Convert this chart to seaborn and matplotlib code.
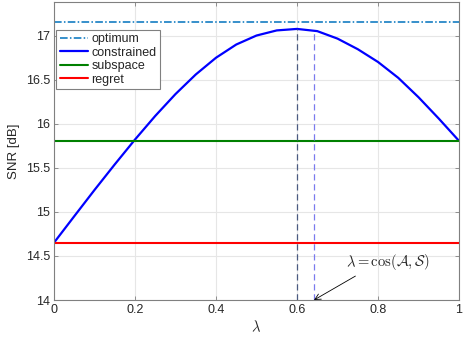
import numpy as np
import pandas as pd
import matplotlib
matplotlib.use("Agg")
import matplotlib.pyplot as plt
import seaborn as sns

# values
lam = [0.0, 0.05, 0.10, 0.15, 0.20, 0.25, 0.30, 0.35, 0.40, 0.45, 0.50,
       0.55, 0.60, 0.65, 0.70, 0.75, 0.80, 0.85, 0.90, 0.95, 1.0]
snr_constrained = [14.650, 14.950, 15.248, 15.538, 15.820, 16.088, 16.336, 16.558, 16.748, 16.898, 17.000,
                   17.058, 17.075, 17.050, 16.965, 16.845, 16.700, 16.520, 16.300, 16.058, 15.805]
snr_optimum = 17.15
snr_subspace = 15.80
snr_regret = 14.65
lam_best = 0.60      # maximiser of the constrained curve
lam_cos = 0.642      # cos(A, S)
snr_at_best = 17.075
snr_at_cos = 17.05

xticks = [0, 0.2, 0.4, 0.6, 0.8, 1]
yticks = [14, 14.5, 15, 15.5, 16, 16.5, 17]


def main():
    sns.set_style("whitegrid", {"grid.color": "#e6e6e6", "axes.edgecolor": "#808080",
                                "xtick.direction": "in", "ytick.direction": "in"})
    plt.rcParams['font.family'] = ['Liberation Sans', 'DejaVu Sans']
    plt.rcParams['mathtext.fontset'] = 'cm'

    fig = plt.figure(figsize=(4.63, 3.38), dpi=100)
    ax = fig.add_axes([0.1166, 0.1124, 0.8748, 0.8816])

    flat = pd.DataFrame({"lam": [0, 1]})
    sns.lineplot(x=flat["lam"], y=[snr_optimum] * 2, ax=ax, color="#0072BD",
                 linestyle=(0, (5, 1.5, 1, 1.5)), lw=1.1, label="optimum")
    sns.lineplot(x=lam, y=snr_constrained, ax=ax, color="#0000FF", lw=1.6, label="constrained")
    sns.lineplot(x=flat["lam"], y=[snr_subspace] * 2, ax=ax, color="#008000", lw=1.5, label="subspace")
    sns.lineplot(x=flat["lam"], y=[snr_regret] * 2, ax=ax, color="#FF0000", lw=1.5, label="regret")

    ax.vlines(lam_best, 14, snr_at_best, colors="#4a5a80", linestyles=(0, (5, 3)), lw=0.9)
    ax.vlines(lam_cos, 14, snr_at_cos, colors="#7a7aee", linestyles=(0, (5, 3)), lw=0.9)

    ax.annotate(r"$\lambda = \cos(\mathcal{A}, \mathcal{S})$", xy=(lam_cos, 14.0),
                xytext=(0.823, 14.43), ha="center", va="center", fontsize=10.5,
                arrowprops=dict(arrowstyle="->", color="black", lw=0.6,
                                relpos=(0.2, 0.0), shrinkA=1, shrinkB=0))

    ax.set_xlim(0, 1)
    ax.set_ylim(14, 17.38)
    ax.set_xticks(xticks)
    ax.set_xticklabels(["0", "0.2", "0.4", "0.6", "0.8", "1"])
    ax.set_yticks(yticks)
    ax.set_yticklabels(["14", "14.5", "15", "15.5", "16", "16.5", "17"])
    ax.tick_params(labelsize=9, colors="#262626", length=3, width=0.6,
                   right=True, top=True, left=True, bottom=True, color="#808080", pad=3)
    ax.set_xlabel(r"$\lambda$", fontsize=10.5, labelpad=2)
    ax.set_ylabel("SNR [dB]", fontsize=9.5, color="#262626", labelpad=4)
    for s in ax.spines.values():
        s.set_linewidth(0.8)

    leg = ax.legend(loc="upper left", bbox_to_anchor=(0.006, 0.906), borderaxespad=0,
                    fontsize=9, frameon=True, fancybox=False, framealpha=1,
                    edgecolor="#808080", handlelength=2.3, handletextpad=0.25,
                    labelspacing=0.12, borderpad=0.25)
    leg.get_frame().set_linewidth(0.8)

    fig.savefig("out.png", dpi=100)


if __name__ == "__main__":
    main()
